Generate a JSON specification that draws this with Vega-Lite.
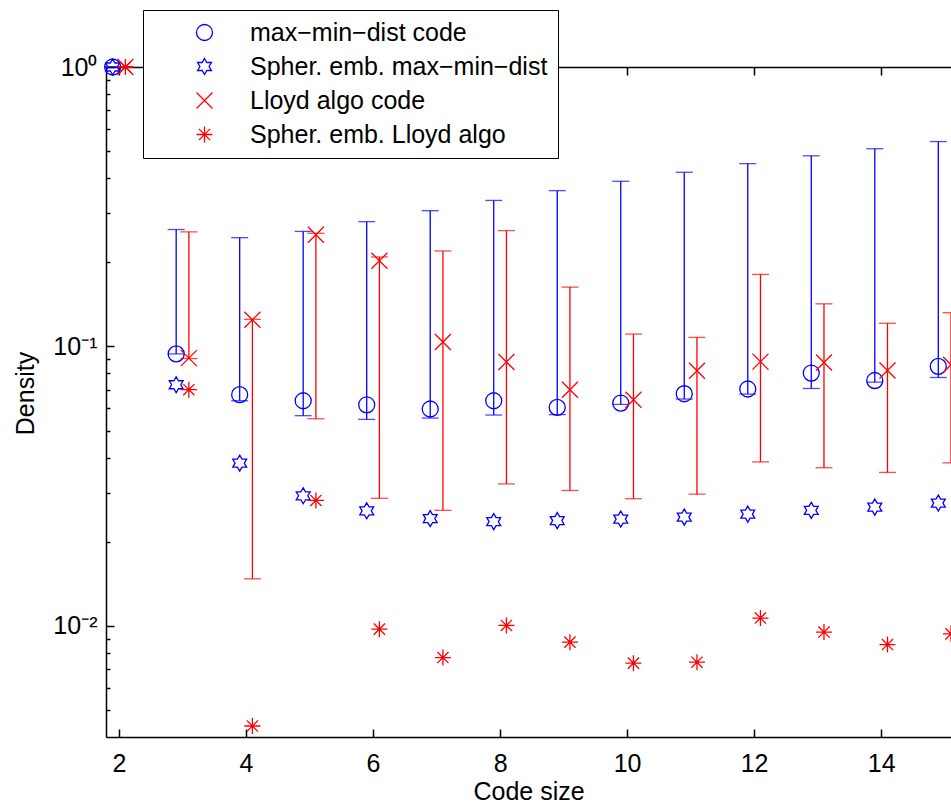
{
  "$schema": "https://vega.github.io/schema/vega-lite/v6.json",
  "autosize": {"type": "none"},
  "width": 845,
  "height": 670,
  "padding": {"left": 106, "top": 67, "right": 0, "bottom": 67},
  "background": "white",
  "config": {"font": "Liberation Sans", "view": {"stroke": null}},
  "datasets": {
    "pts": [
      {"series": "max−min−dist code", "x": 1.9, "y": 1},
      {"series": "max−min−dist code", "x": 2.9, "y": 0.094},
      {"series": "max−min−dist code", "x": 3.9, "y": 0.0672},
      {"series": "max−min−dist code", "x": 4.9, "y": 0.0639},
      {"series": "max−min−dist code", "x": 5.9, "y": 0.0618},
      {"series": "max−min−dist code", "x": 6.9, "y": 0.0597},
      {"series": "max−min−dist code", "x": 7.9, "y": 0.0639},
      {"series": "max−min−dist code", "x": 8.9, "y": 0.0605},
      {"series": "max−min−dist code", "x": 9.9, "y": 0.0627},
      {"series": "max−min−dist code", "x": 10.9, "y": 0.0677},
      {"series": "max−min−dist code", "x": 11.9, "y": 0.0704},
      {"series": "max−min−dist code", "x": 12.9, "y": 0.0803},
      {"series": "max−min−dist code", "x": 13.9, "y": 0.0755},
      {"series": "max−min−dist code", "x": 14.9, "y": 0.0848},
      {"series": "Spher. emb. max−min−dist", "x": 1.9, "y": 1},
      {"series": "Spher. emb. max−min−dist", "x": 2.9, "y": 0.0729},
      {"series": "Spher. emb. max−min−dist", "x": 3.9, "y": 0.0382},
      {"series": "Spher. emb. max−min−dist", "x": 4.9, "y": 0.0292},
      {"series": "Spher. emb. max−min−dist", "x": 5.9, "y": 0.0258},
      {"series": "Spher. emb. max−min−dist", "x": 6.9, "y": 0.0242},
      {"series": "Spher. emb. max−min−dist", "x": 7.9, "y": 0.0236},
      {"series": "Spher. emb. max−min−dist", "x": 8.9, "y": 0.0238},
      {"series": "Spher. emb. max−min−dist", "x": 9.9, "y": 0.0241},
      {"series": "Spher. emb. max−min−dist", "x": 10.9, "y": 0.0245},
      {"series": "Spher. emb. max−min−dist", "x": 11.9, "y": 0.0251},
      {"series": "Spher. emb. max−min−dist", "x": 12.9, "y": 0.0259},
      {"series": "Spher. emb. max−min−dist", "x": 13.9, "y": 0.0266},
      {"series": "Spher. emb. max−min−dist", "x": 14.9, "y": 0.0275},
      {"series": "Lloyd algo code", "x": 2.1, "y": 1},
      {"series": "Lloyd algo code", "x": 3.1, "y": 0.0908},
      {"series": "Lloyd algo code", "x": 4.1, "y": 0.1246},
      {"series": "Lloyd algo code", "x": 5.1, "y": 0.251},
      {"series": "Lloyd algo code", "x": 6.1, "y": 0.2027},
      {"series": "Lloyd algo code", "x": 7.1, "y": 0.1037},
      {"series": "Lloyd algo code", "x": 8.1, "y": 0.088},
      {"series": "Lloyd algo code", "x": 9.1, "y": 0.07},
      {"series": "Lloyd algo code", "x": 10.1, "y": 0.0644},
      {"series": "Lloyd algo code", "x": 11.1, "y": 0.0818},
      {"series": "Lloyd algo code", "x": 12.1, "y": 0.0882},
      {"series": "Lloyd algo code", "x": 13.1, "y": 0.0876},
      {"series": "Lloyd algo code", "x": 14.1, "y": 0.082},
      {"series": "Lloyd algo code", "x": 15.1, "y": 0.086},
      {"series": "Spher. emb. Lloyd algo", "x": 2.1, "y": 1},
      {"series": "Spher. emb. Lloyd algo", "x": 3.1, "y": 0.07},
      {"series": "Spher. emb. Lloyd algo", "x": 4.1, "y": 0.00438},
      {"series": "Spher. emb. Lloyd algo", "x": 5.1, "y": 0.0281},
      {"series": "Spher. emb. Lloyd algo", "x": 6.1, "y": 0.00973},
      {"series": "Spher. emb. Lloyd algo", "x": 7.1, "y": 0.0077},
      {"series": "Spher. emb. Lloyd algo", "x": 8.1, "y": 0.01003},
      {"series": "Spher. emb. Lloyd algo", "x": 9.1, "y": 0.00874},
      {"series": "Spher. emb. Lloyd algo", "x": 10.1, "y": 0.00735},
      {"series": "Spher. emb. Lloyd algo", "x": 11.1, "y": 0.00741},
      {"series": "Spher. emb. Lloyd algo", "x": 12.1, "y": 0.01066},
      {"series": "Spher. emb. Lloyd algo", "x": 13.1, "y": 0.0095},
      {"series": "Spher. emb. Lloyd algo", "x": 14.1, "y": 0.00857},
      {"series": "Spher. emb. Lloyd algo", "x": 15.1, "y": 0.00936}
    ],
    "err": [
      {"series": "max−min−dist code", "x": 1.9, "lo": 1, "hi": 1},
      {"series": "max−min−dist code", "x": 2.9, "lo": 0.094, "hi": 0.262},
      {"series": "max−min−dist code", "x": 3.9, "lo": 0.0639, "hi": 0.245},
      {"series": "max−min−dist code", "x": 4.9, "lo": 0.0565, "hi": 0.258},
      {"series": "max−min−dist code", "x": 5.9, "lo": 0.0548, "hi": 0.2796},
      {"series": "max−min−dist code", "x": 6.9, "lo": 0.0554, "hi": 0.306},
      {"series": "max−min−dist code", "x": 7.9, "lo": 0.0568, "hi": 0.333},
      {"series": "max−min−dist code", "x": 8.9, "lo": 0.057, "hi": 0.361},
      {"series": "max−min−dist code", "x": 9.9, "lo": 0.062, "hi": 0.39},
      {"series": "max−min−dist code", "x": 10.9, "lo": 0.0648, "hi": 0.42},
      {"series": "max−min−dist code", "x": 11.9, "lo": 0.0675, "hi": 0.451},
      {"series": "max−min−dist code", "x": 12.9, "lo": 0.0707, "hi": 0.481},
      {"series": "max−min−dist code", "x": 13.9, "lo": 0.0745, "hi": 0.51},
      {"series": "max−min−dist code", "x": 14.9, "lo": 0.0774, "hi": 0.541},
      {"series": "Lloyd algo code", "x": 2.1, "lo": 1, "hi": 1},
      {"series": "Lloyd algo code", "x": 3.1, "lo": 0.0905, "hi": 0.257},
      {"series": "Lloyd algo code", "x": 4.1, "lo": 0.01473, "hi": 0.125},
      {"series": "Lloyd algo code", "x": 5.1, "lo": 0.0551, "hi": 0.254},
      {"series": "Lloyd algo code", "x": 6.1, "lo": 0.0286, "hi": 0.209},
      {"series": "Lloyd algo code", "x": 7.1, "lo": 0.0259, "hi": 0.2196},
      {"series": "Lloyd algo code", "x": 8.1, "lo": 0.0322, "hi": 0.2597},
      {"series": "Lloyd algo code", "x": 9.1, "lo": 0.0305, "hi": 0.163},
      {"series": "Lloyd algo code", "x": 10.1, "lo": 0.0285, "hi": 0.1107},
      {"series": "Lloyd algo code", "x": 11.1, "lo": 0.0296, "hi": 0.1077},
      {"series": "Lloyd algo code", "x": 12.1, "lo": 0.0386, "hi": 0.181},
      {"series": "Lloyd algo code", "x": 13.1, "lo": 0.0368, "hi": 0.142},
      {"series": "Lloyd algo code", "x": 14.1, "lo": 0.0354, "hi": 0.121},
      {"series": "Lloyd algo code", "x": 15.1, "lo": 0.0383, "hi": 0.132}
    ]
  },
  "resolve": {"axis": {"x": "independent", "y": "independent"}, "legend": {"color": "independent", "shape": "independent"}},
  "layer": [
    {
      "data": {"name": "err"},
      "mark": {"type": "rule", "strokeWidth": 1.3},
      "encoding": {
        "x": {"field": "x", "type": "quantitative",
              "scale": {"domain": [1.795, 15.1], "nice": false, "zero": false},
              "axis": {"orient": "bottom", "values": [2, 4, 6, 8, 10, 12, 14], "grid": false, "ticks": false,
                       "domainColor": "black", "domainWidth": 1.5,
                       "labelFontSize": 25, "labelColor": "black", "labelPadding": 14, "labelFlush": false,
                       "title": "Code size", "titleFontSize": 25, "titleFontWeight": "normal", "titleColor": "black", "titlePadding": 3}},
        "y": {"field": "lo", "type": "quantitative",
              "scale": {"type": "log", "domain": [0.004, 1], "nice": false},
              "axis": {"orient": "left", "values": [0.01, 0.1, 1], "grid": false, "ticks": false,
                       "labelExpr": "datum.value >= 0.5 ? '10⁰' : (datum.value >= 0.05 ? '10⁻¹' : '10⁻²')",
                       "domainColor": "black", "domainWidth": 1.5,
                       "labelFontSize": 25, "labelColor": "black", "labelPadding": 9, "labelFlush": false,
                       "title": "Density", "titleFontSize": 25, "titleFontWeight": "normal", "titleColor": "black", "titlePadding": 14, "titleY": 326}},
        "y2": {"field": "hi"},
        "color": {"field": "series", "type": "nominal", "legend": null,
                  "scale": {"domain": ["max−min−dist code", "Spher. emb. max−min−dist", "Lloyd algo code", "Spher. emb. Lloyd algo"],
                            "range": ["#0000ff", "#0000ff", "#ff0000", "#ff0000"]}}
      }
    },
    {
      "data": {"name": "err"},
      "mark": {"type": "tick", "orient": "horizontal", "size": 17, "thickness": 1.3},
      "encoding": {
        "x": {"field": "x", "type": "quantitative",
              "axis": {"orient": "bottom", "values": [2, 4, 6, 8, 10, 12, 14], "grid": false, "labels": false, "domain": false,
                       "offset": -8, "ticks": true, "tickSize": 8, "tickColor": "black", "tickOpacity": 1, "tickWidth": 1.5, "title": null}},
        "y": {"field": "lo", "type": "quantitative",
              "axis": {"orient": "left", "values": [0.01, 0.1, 1], "grid": false, "labels": false, "domain": false,
                       "offset": -8, "ticks": true, "tickSize": 8, "tickColor": "black", "tickOpacity": 1, "tickWidth": 1.5, "title": null}},
        "color": {"field": "series", "type": "nominal", "legend": null}
      }
    },
    {
      "data": {"name": "err"},
      "mark": {"type": "tick", "orient": "horizontal", "size": 17, "thickness": 1.3},
      "encoding": {
        "x": {"field": "x", "type": "quantitative",
              "axis": {"orient": "top", "values": [2, 4, 6, 8, 10, 12, 14], "grid": false, "labels": false, "domain": false,
                       "offset": -8, "ticks": true, "tickSize": 8, "tickColor": "black", "tickOpacity": 1, "tickWidth": 1.5, "title": null}},
        "y": {"field": "hi", "type": "quantitative",
              "axis": {"orient": "left", "grid": false, "labels": false, "domain": false,
                       "values": [0.005, 0.006, 0.007, 0.008, 0.009, 0.02, 0.03, 0.04, 0.05, 0.06, 0.07, 0.08, 0.09, 0.2, 0.3, 0.4, 0.5, 0.6, 0.7, 0.8, 0.9],
                       "offset": -4, "ticks": true, "tickSize": 4, "tickColor": "black", "tickOpacity": 1, "tickWidth": 1.5, "title": null}},
        "color": {"field": "series", "type": "nominal", "legend": null}
      }
    },
    {
      "data": {"name": "pts"},
      "mark": {"type": "point", "filled": false, "strokeWidth": 1.3, "opacity": 1, "size": 256},
      "encoding": {
        "x": {"field": "x", "type": "quantitative",
              "axis": {"orient": "top", "grid": false, "labels": false, "ticks": false,
                       "domainColor": "black", "domainWidth": 1.5, "title": null}},
        "y": {"field": "y", "type": "quantitative", "axis": null},
        "color": {"field": "series", "type": "nominal", "title": null,
                  "legend": {"orient": "none", "legendX": 37, "legendY": -57,
                             "strokeColor": "black", "fillColor": "white", "padding": 10,
                             "symbolOffset": 39, "labelOffset": 33, "rowPadding": 8,
                             "symbolSize": 256, "symbolStrokeWidth": 1.3, "symbolFillColor": "transparent",
                             "labelFontSize": 25, "labelColor": "black", "labelLimit": 0}},
        "shape": {"field": "series", "type": "nominal", "title": null,
                  "legend": {"orient": "none", "legendX": 37, "legendY": -57,
                             "strokeColor": "black", "fillColor": "white", "padding": 10,
                             "symbolOffset": 39, "labelOffset": 33, "rowPadding": 8,
                             "symbolSize": 256, "symbolStrokeWidth": 1.3, "symbolFillColor": "transparent",
                             "labelFontSize": 25, "labelColor": "black", "labelLimit": 0},
                  "scale": {"domain": ["max−min−dist code", "Spher. emb. max−min−dist", "Lloyd algo code", "Spher. emb. Lloyd algo"],
                            "range": ["circle",
                                      "M0,-1L0.2887,-0.5L0.866,-0.5L0.5774,0L0.866,0.5L0.2887,0.5L0,1L-0.2887,0.5L-0.866,0.5L-0.5774,0L-0.866,-0.5L-0.2887,-0.5Z",
                                      "M-1,-1L1,1M-1,1L1,-1",
                                      "M-1,0L1,0M0,-1L0,1M-0.7,-0.7L0.7,0.7M-0.7,0.7L0.7,-0.7"]}}
      }
    }
  ]
}
